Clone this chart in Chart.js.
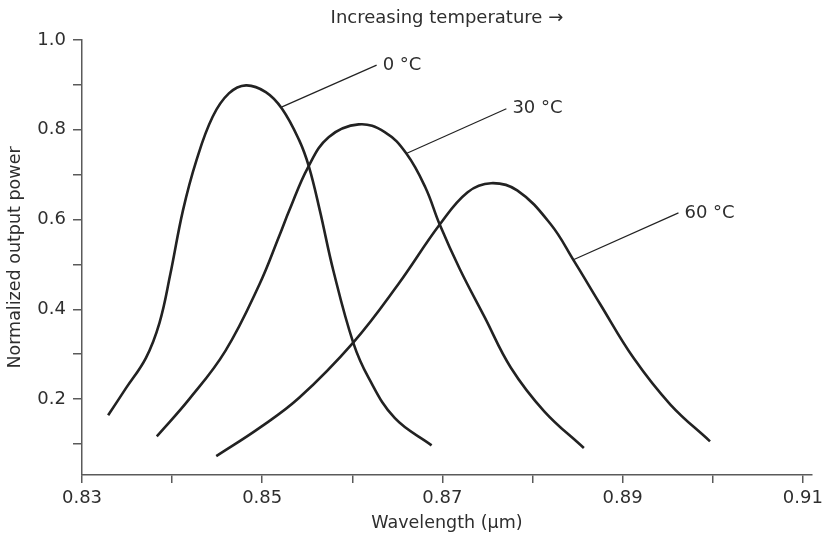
<!DOCTYPE html>
<html>
<head>
<meta charset="utf-8">
<script src="https://cdn.jsdelivr.net/npm/chart.js@4/dist/chart.umd.min.js"></script>
<style>
  html, body { margin: 0; padding: 0; background: #ffffff; }
  canvas { display: block; }
</style>
</head>
<body>
<canvas id="c" width="828" height="539"></canvas>
<script>
// ---- Data ----
const wl0   = [0.8329, 0.8349, 0.8371, 0.8386, 0.8398, 0.8412, 0.8427, 0.8445, 0.8463, 0.8482, 0.8504, 0.8522, 0.8541, 0.8552, 0.8564, 0.8579, 0.8601, 0.8618, 0.8647, 0.8688];
const pow0  = [0.164, 0.225, 0.292, 0.370, 0.478, 0.620, 0.732, 0.829, 0.881, 0.899, 0.884, 0.847, 0.777, 0.717, 0.620, 0.486, 0.326, 0.248, 0.158, 0.097];

const wl30  = [0.8383, 0.8419, 0.8459, 0.8497, 0.8519, 0.8530, 0.8551, 0.8574, 0.8607, 0.8636, 0.8660, 0.8681, 0.8697, 0.8719, 0.8747, 0.8776, 0.8813, 0.8857];
const pow30 = [0.117, 0.200, 0.307, 0.456, 0.564, 0.620, 0.717, 0.784, 0.812, 0.795, 0.747, 0.672, 0.589, 0.491, 0.382, 0.270, 0.173, 0.091];

const wl60  = [0.8449, 0.8497, 0.8541, 0.8601, 0.8651, 0.8697, 0.8728, 0.8754, 0.8783, 0.8820, 0.8846, 0.8875, 0.8912, 0.8953, 0.8997];
const pow60 = [0.073, 0.136, 0.203, 0.326, 0.456, 0.589, 0.661, 0.681, 0.665, 0.590, 0.508, 0.412, 0.292, 0.188, 0.106];

const curveLabels  = ['0 °C', '30 °C', '60 °C'];
const leaderFromX  = [0.8522, 0.8660, 0.8846];
const leaderFromY  = [0.851, 0.747, 0.511];
const leaderToX    = [0.8627, 0.8771, 0.8962];
const leaderToY    = [0.944, 0.847, 0.615];

const xTickValues = [0.83, 0.84, 0.85, 0.86, 0.87, 0.88, 0.89, 0.90, 0.91];
const xTickLabels = ['0.83', '', '0.85', '', '0.87', '', '0.89', '', '0.91'];
const yTickValues = [0.1, 0.2, 0.3, 0.4, 0.5, 0.6, 0.7, 0.8, 0.9, 1.0];
const yTickLabels = ['', '0.2', '', '0.4', '', '0.6', '', '0.8', '', '1.0'];

const topTitle = 'Increasing temperature \u2192';
const xTitle = 'Wavelength (\u03bcm)';
const yTitle = 'Normalized output power';

// ---- Build chart ----
const FONT = 'DejaVu Sans';
const TEXT = '#2e2e2e';
const AXIS = '#5a5a5a';
const INK = '#222222';

function pts(xs, ys) { return xs.map((x, i) => ({ x: x, y: ys[i] })); }

const curveSets = [[wl0, pow0], [wl30, pow30], [wl60, pow60]].map(([xs, ys]) => ({
  data: pts(xs, ys),
  borderColor: INK,
  borderWidth: 2.6,
  pointRadius: 0,
  fill: false,
  tension: 0.4
}));

const leaderSets = curveLabels.map((_, i) => ({
  data: [{ x: leaderFromX[i], y: leaderFromY[i] }, { x: leaderToX[i], y: leaderToY[i] }],
  borderColor: INK,
  borderWidth: 1.2,
  pointRadius: 0,
  fill: false,
  tension: 0
}));

const textPlugin = {
  id: 'texts',
  afterDraw(chart) {
    const ctx = chart.ctx;
    const xs = chart.scales.x, ys = chart.scales.y;
    ctx.save();
    ctx.fillStyle = TEXT;
    ctx.font = '18px "' + FONT + '"';
    ctx.textBaseline = 'middle';
    ctx.textAlign = 'left';
    curveLabels.forEach((t, i) => {
      const px = xs.getPixelForValue(leaderToX[i]);
      const py = ys.getPixelForValue(leaderToY[i]);
      ctx.fillText(t, px + 6, py);
    });
    ctx.textAlign = 'center';
    const ca = chart.chartArea;
    ctx.fillText(topTitle, (ca.left + ca.right) / 2, 18);
    ctx.restore();
  }
};

new Chart(document.getElementById('c'), {
  type: 'line',
  data: { datasets: [...curveSets, ...leaderSets] },
  options: {
    responsive: false,
    animation: false,
    devicePixelRatio: 1,
    layout: { padding: { left: 0, top: 40, right: 12, bottom: 0 } },
    plugins: { legend: { display: false }, tooltip: { enabled: false }, title: { display: false } },
    scales: {
      x: {
        type: 'linear',
        min: 0.83,
        max: 0.911,
        afterBuildTicks: (s) => { s.ticks = xTickValues.map(v => ({ value: v })); },
        afterFit: (s) => { s.height = 64; },
        ticks: {
          autoSkip: false,
          maxRotation: 0,
          padding: 5,
          color: TEXT,
          font: { family: FONT, size: 18 },
          callback: (v, i) => xTickLabels[i]
        },
        grid: { drawOnChartArea: false, drawTicks: true, tickLength: 8, color: AXIS, lineWidth: 1.5 },
        border: { display: true, color: AXIS, width: 1.5 },
        title: { display: true, text: xTitle, color: TEXT, font: { family: FONT, size: 17.5 }, padding: { top: 0, bottom: 5 } }
      },
      y: {
        type: 'linear',
        min: 0.031,
        max: 1.0,
        afterBuildTicks: (s) => { s.ticks = yTickValues.map(v => ({ value: v })); },
        afterFit: (s) => { s.width = 82; },
        ticks: {
          autoSkip: false,
          padding: 7,
          color: TEXT,
          font: { family: FONT, size: 18 },
          callback: (v, i) => yTickLabels[i]
        },
        grid: { drawOnChartArea: false, drawTicks: true, tickLength: 9, color: AXIS, lineWidth: 1.5 },
        border: { display: true, color: AXIS, width: 1.5 },
        title: { display: true, text: yTitle, color: TEXT, font: { family: FONT, size: 17.5 }, padding: { top: 5, bottom: 0 } }
      }
    }
  },
  plugins: [textPlugin]
});
</script>
</body>
</html>
